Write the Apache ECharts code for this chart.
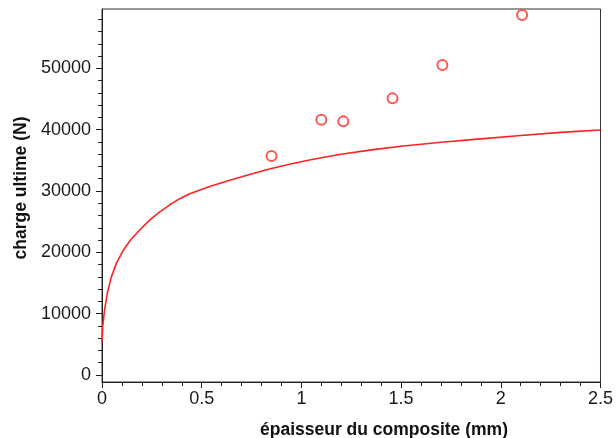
<!DOCTYPE html>
<html>
<head>
<meta charset="utf-8">
<script src="https://cdn.jsdelivr.net/npm/echarts@6/dist/echarts.min.js"></script>
<style>
html,body{margin:0;padding:0;background:#fff;}
#chart{width:616px;height:438px;}
</style>
</head>
<body>
<div id="chart"></div>
<script>
// Measured points (épaisseur mm, charge N)
var measX = [0.85, 1.1, 1.21, 1.457, 1.707, 2.107];
var measY = [35700, 41600, 41350, 45100, 50540, 58690];
// Model curve
var curveX = [0, 0.004, 0.013, 0.027, 0.047, 0.072, 0.105, 0.145, 0.195, 0.24, 0.29, 0.34, 0.39, 0.44, 0.54, 0.64, 0.74, 0.84, 0.94, 1.04, 1.19, 1.36, 1.5, 1.7, 1.9, 2.1, 2.3, 2.5];
var curveY = [5400, 8000, 10600, 13400, 16000, 18200, 20250, 22100, 23850, 25300, 26600, 27750, 28750, 29550, 30750, 31750, 32700, 33600, 34350, 35050, 35950, 36750, 37300, 37950, 38500, 39050, 39550, 39950];
// Axes
var xTicks = [0, 0.5, 1, 1.5, 2, 2.5];
var yTicks = [0, 10000, 20000, 30000, 40000, 50000];
var yMinorTicks = [2000, 4000, 6000, 8000, 12000, 14000, 16000, 18000, 22000, 24000, 26000, 28000, 32000, 34000, 36000, 38000, 42000, 44000, 46000, 48000, 52000, 54000, 56000, 58000];
var xName = 'épaisseur du composite (mm)';
var yName = 'charge ultime (N)';
var yMin = -1140, yMax = 59670;

var pts = measX.map(function(x, i){ return [x, measY[i]]; });
var crv = curveX.map(function(x, i){ return [x, curveY[i]]; });

var axisColor = '#222';
var chart = echarts.init(document.getElementById('chart'), null, {renderer: 'canvas'});
chart.setOption({
  animation: false,
  backgroundColor: '#fff',
  grid: {left: 102, right: 14, top: 9, bottom: 56, show: true, borderColor: '#333', borderWidth: 1, backgroundColor: 'transparent'},
  xAxis: {
    type: 'value', min: xTicks[0], max: xTicks[xTicks.length - 1], interval: 0.5,
    axisLine: {onZero: false, lineStyle: {color: axisColor, width: 1}},
    axisTick: {show: true, length: 6, lineStyle: {color: axisColor}},
    minorTick: {show: true, splitNumber: 5, length: 4, lineStyle: {color: axisColor}},
    splitLine: {show: false},
    axisLabel: {margin: 8, color: '#1a1a1a', fontFamily: 'Liberation Sans', fontSize: 18,
      customValues: xTicks, formatter: function(v){ return String(v); }}
  },
  yAxis: [{
    type: 'value', min: yMin, max: yMax, position: 'left',
    axisLine: {show: true, onZero: false, lineStyle: {color: axisColor, width: 1}},
    axisTick: {show: true, length: 6, lineStyle: {color: axisColor}, customValues: yTicks},
    splitLine: {show: false},
    axisLabel: {margin: 11, color: '#1a1a1a', fontFamily: 'Liberation Sans', fontSize: 18,
      customValues: yTicks, formatter: function(v){ return String(v); }}
  }, {
    type: 'value', min: yMin, max: yMax, position: 'left', offset: 0,
    axisLine: {show: false},
    axisTick: {show: true, length: 4, lineStyle: {color: axisColor}, customValues: yMinorTicks},
    axisLabel: {show: false},
    splitLine: {show: false}
  }],
  graphic: [{
    type: 'text', x: 384, y: 430,
    style: {text: xName, font: 'bold 17.5px "Liberation Sans"', fill: '#111', align: 'center', verticalAlign: 'middle'}
  }, {
    type: 'text', x: 21, y: 188, rotation: Math.PI / 2,
    style: {text: yName, font: 'bold 17.5px "Liberation Sans"', fill: '#111', align: 'center', verticalAlign: 'middle'}
  }],
  series: [{
    type: 'line', data: crv, yAxisIndex: 0, showSymbol: false, symbol: 'none',
    smooth: false,
    lineStyle: {color: '#ff2222', width: 1.6}
  }, {
    type: 'scatter', data: pts, yAxisIndex: 0, symbol: 'emptyCircle', symbolSize: 10,
    itemStyle: {color: '#ff2a2a', borderColor: '#ff2a2a', borderWidth: 1.5}
  }]
});
</script>
</body>
</html>
